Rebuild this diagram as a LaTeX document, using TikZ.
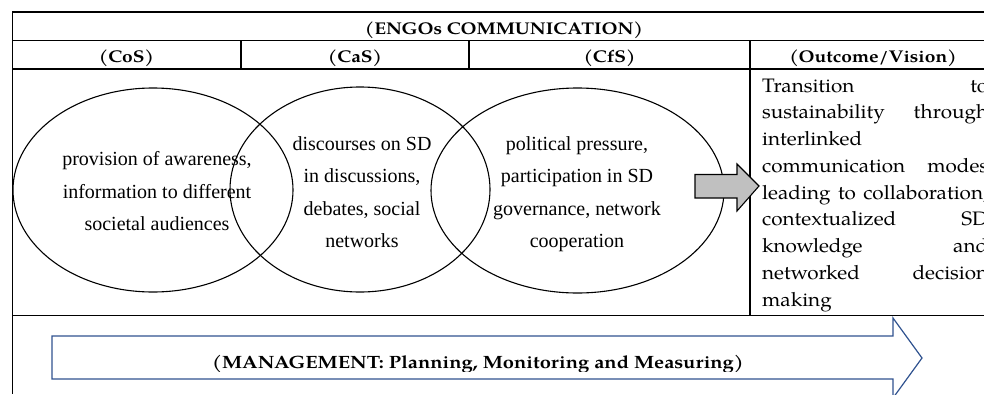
\documentclass[tikz,border=0pt]{standalone}
\usepackage{fontspec}
\newfontfamily\pal{texgyrepagella}[Extension=.otf, UprightFont=*-regular, BoldFont=*-bold, FakeStretch=1.06]
\newfontfamily\palb{texgyrepagella-bold}[Extension=.otf, FakeStretch=1.13]
\newfontfamily\tnr{Liberation Serif}
\definecolor{arrowblue}{RGB}{47,82,143}
\definecolor{arrowgray}{RGB}{192,192,192}
\tikzset{
  tbl/.style={line width=1.1pt, black},
  hdr/.style={font=\palb\fontsize{17}{19}\selectfont, anchor=base, inner sep=0pt},
  venn/.style={ellipse, draw, line width=1.1pt, inner sep=0pt},
  vtext/.style={font=\tnr\fontsize{20}{32.5}\selectfont, align=center, inner sep=0pt},
  otext/.style={font=\pal\fontsize{19.5}{26.75}\selectfont, anchor=base west, inner sep=0pt},
  blockarrow/.style={draw=black, fill=arrowgray, line width=1.1pt, line join=miter},
  mgmtarrow/.style={draw=arrowblue, line width=1.2pt, line join=miter},
  mgmttext/.style={font=\palb\fontsize{17.8}{20}\selectfont, anchor=base, inner sep=0pt},
}
\usetikzlibrary{shapes.geometric}
\begin{document}
\begin{tikzpicture}[x=1pt,y=-1pt]
\useasboundingbox (0,0) rectangle (984,394);
\clip (0,0) rectangle (984,394);
% table lines
\draw[tbl] (12,12) -- (1000,12);
\draw[tbl] (12,40.5) -- (1000,40.5);
\draw[tbl] (12,69) -- (1000,69);
\draw[tbl] (12,315.5) -- (1000,315.5);
\draw[tbl] (12.5,12) -- (12.5,394);
\draw[tbl] (241,40.5) -- (241,69);
\draw[tbl] (469,40.5) -- (469,69);
\draw[tbl] (750,40.5) -- (750,315.5);
% headers
\node[hdr] (h0) at (504,34.3) {(ENGOs COMMUNICATION)};
\node[hdr] (h1) at (126.5,62.5) {(CoS)};
\node[hdr] (h2) at (355,62.5) {(CaS)};
\node[hdr] (h3) at (609.5,62.5) {(CfS)};
\node[hdr] (h4) at (873,62.5) {(Outcome/Vision)};
% venn ellipses
\node[venn, minimum width=280pt, minimum height=204pt] (e1) at (153,190) {};
\node[venn, minimum width=260pt, minimum height=205pt] (e2) at (360,189.5) {};
\node[venn, minimum width=293pt, minimum height=205pt] (e3) at (577.5,190.5) {};
\node[vtext] (t1) at (157,191.5) {provision of awareness,\\information to different\\societal audiences};
\node[vtext] (t2) at (362,192) {discourses on SD\\in discussions,\\debates, social\\networks};
\node[vtext] (t3) at (577,194.3) {political pressure,\\participation in SD\\governance, network\\cooperation};
% gray block arrow
\draw[blockarrow] (695,174.5) -- (737,174.5) -- (737,164) -- (759,186) -- (737,211) -- (737,198) -- (695,198) -- cycle;
% outcome text
\node[otext] (o1) at (762,92) {\makebox[226pt][s]{Transition\hfill to}};
\node[otext] (o2) at (762,118.75) {\makebox[226pt][s]{sustainability\hfill through}};
\node[otext] (o3) at (762,145.5) {interlinked};
\node[otext] (o4) at (762,172.25) {\makebox[226pt][s]{communication\hfill modes}};
\node[otext] (o5) at (762,199) {\makebox[226pt][s]{leading to collaboration,}};
\node[otext] (o6) at (762,225.75) {\makebox[226pt][s]{contextualized\hfill SD}};
\node[otext] (o7) at (762,252.5) {\makebox[226pt][s]{knowledge\hfill and}};
\node[otext] (o8) at (762,279.25) {\makebox[226pt][s]{networked\hfill decision}};
\node[otext] (o9) at (762,306) {making};
% management arrow
\draw[mgmtarrow] (52,336) -- (893,336) -- (893,318) -- (922,358) -- (893,398) -- (893,379) -- (52,379) -- cycle;
\begin{scope}
\clip (52,336) rectangle (893,371);
\node[mgmttext] (m) at (478,368) {(MANAGEMENT: Planning, Monitoring and Measuring)};
\end{scope}
\end{tikzpicture}
\end{document}
